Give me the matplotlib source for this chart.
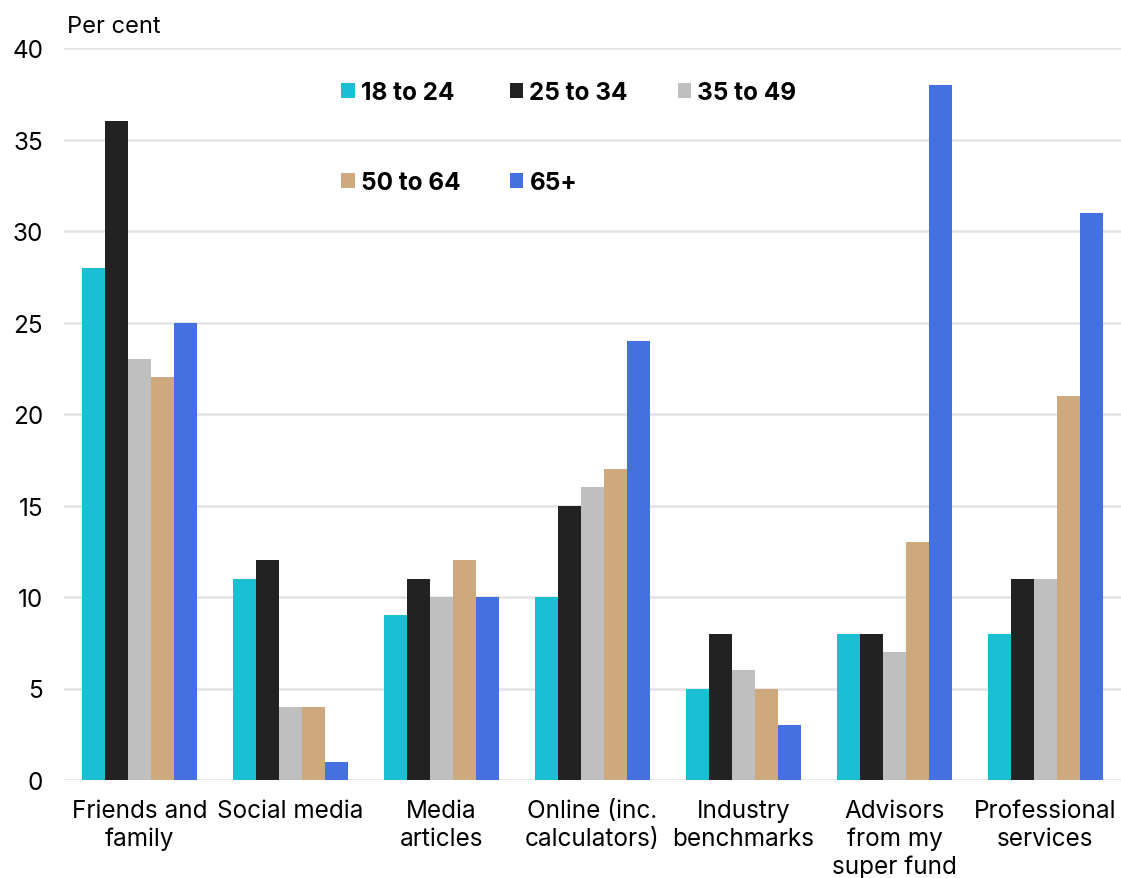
import matplotlib
matplotlib.use("Agg")
import matplotlib.pyplot as plt
from matplotlib.patches import Patch
import numpy as np

plt.rcParams['font.family'] = ['Inter', 'DejaVu Sans']

categories = ["Friends and\nfamily", "Social media", "Media\narticles", "Online (inc.\ncalculators)",
              "Industry\nbenchmarks", "Advisors\nfrom my\nsuper fund", "Professional\nservices"]
series_names = ["18 to 24", "25 to 34", "35 to 49", "50 to 64", "65+"]
age_18_24 = [28, 11, 9, 10, 5, 8, 8]
age_25_34 = [36, 12, 11, 15, 8, 8, 11]
age_35_49 = [23, 4, 10, 16, 6, 7, 11]
age_50_64 = [22, 4, 12, 17, 5, 13, 21]
age_65_plus = [25, 1, 10, 24, 3, 38, 31]
yticks = [0, 5, 10, 15, 20, 25, 30, 35, 40]

series = [age_18_24, age_25_34, age_35_49, age_50_64, age_65_plus]
colors = ["#1BBFD3", "#222222", "#BFBFBF", "#CFA97E", "#4570E0"]

W, H = 1121, 879
fig = plt.figure(figsize=(W / 100, H / 100), dpi=100)
ax = fig.add_axes([64 / W, 1 - 781 / H, (W - 64) / W, (781 - 49) / H])

x = np.arange(len(categories))
group_w = 0.767
bw = group_w / len(series)
for i, (vals, c) in enumerate(zip(series, colors)):
    ax.bar(x - group_w / 2 + bw * (i + 0.5), vals, width=bw, color=c, zorder=3)

ax.set_xlim(-0.5, len(categories) - 0.5)
ax.set_ylim(0, 40)
ax.set_yticks(yticks)
ax.set_yticklabels([str(t) for t in yticks], fontsize=17.5)
ax.set_xticks(x)
ax.set_xticklabels(categories, fontsize=17.5, linespacing=1.24)
ax.tick_params(axis='both', length=0, colors='#000000')
ax.tick_params(axis='y', pad=15)
ax.tick_params(axis='x', pad=14)
ax.grid(axis='y', color='#E3E3E3', linewidth=1.8, zorder=0)
for s in ax.spines.values():
    s.set_visible(False)

fig.text(67 / W, 1 - 27 / H, "Per cent", fontsize=17, va='center', ha='left')

handles = [Patch(facecolor=c, edgecolor='none') for c in colors]
order = [0, 3, 1, 4, 2]
leg = ax.legend([handles[i] for i in order], [series_names[i] for i in order],
                ncol=3, loc='upper left', bbox_to_anchor=(329 / W, 1 - 70 / H),
                bbox_transform=fig.transFigure, frameon=False, borderpad=0,
                handlelength=0.55, handleheight=0.55, handletextpad=0.25,
                columnspacing=2.05, labelspacing=2.75,
                prop={'size': 17.5, 'weight': 'bold'})

fig.savefig("out.png", dpi=100)
